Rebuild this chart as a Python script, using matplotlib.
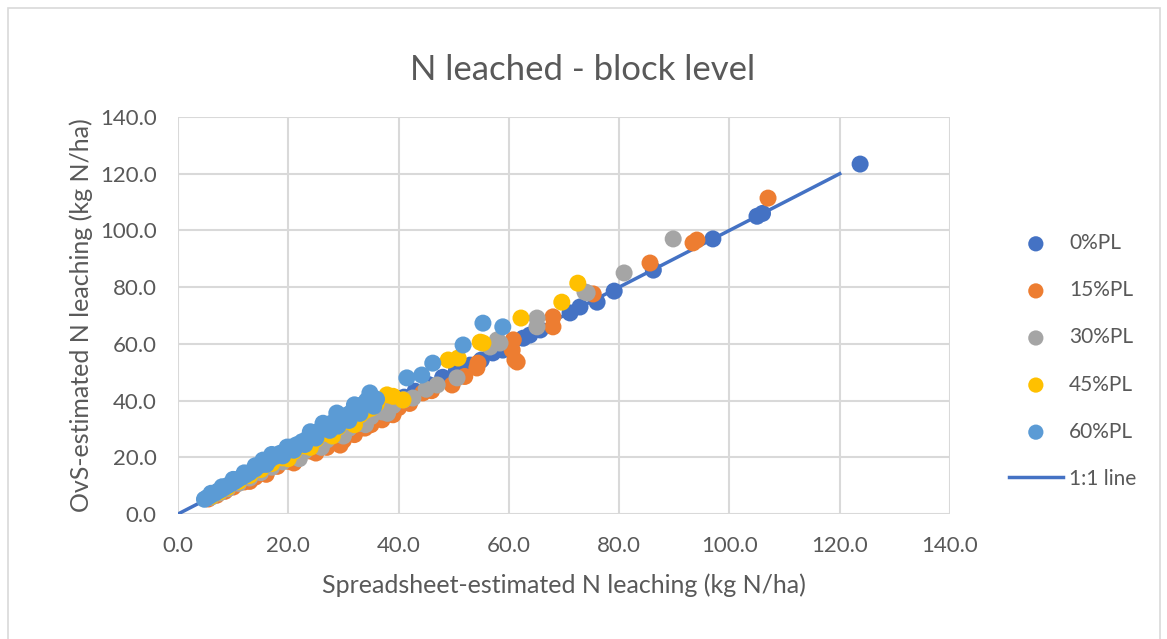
import matplotlib
matplotlib.use("Agg")
import matplotlib.pyplot as plt
from matplotlib.patches import Rectangle
from matplotlib.ticker import MultipleLocator, FormatStrFormatter

plt.rcParams['font.family'] = ['Lato', 'DejaVu Sans']

# 0%PL
x0 = [5.5, 6.5, 7.5, 8.5, 10, 11.5, 13, 14.5, 16, 17.5, 19, 20.5, 22, 23.5, 25, 26.5, 28, 29.5, 31, 33,
      35, 37, 39, 41, 43, 45.5, 48, 50.5, 53, 55, 57.1, 58.9, 60.5, 62.6, 63.8, 65.7, 71.1, 72.9, 76, 79.1,
      86.2, 97, 105, 106, 123.7]
y0 = [5.6, 6.6, 7.6, 8.7, 10.2, 11.6, 13.2, 14.6, 16.3, 17.7, 19.1, 20.8, 22.2, 23.6, 25.3, 26.7, 28.2, 29.8, 31.3, 33.2,
      35.3, 37.1, 39.4, 41.2, 43.3, 45.6, 48.2, 50.7, 52.5, 54.3, 56.8, 57.8, 60.2, 62, 63.1, 64.9, 70.9, 73, 74.7, 78.6,
      86, 97, 105, 106, 123.4]

# 15%PL
x15 = [5.5, 7, 8.5, 10, 12, 13, 14, 16, 16, 18, 20, 21, 22, 24, 25, 26, 27, 28, 29.4, 30,
       31, 32, 33.9, 35, 36, 37, 38, 39, 40, 42, 44.4, 46, 49.7, 52, 54.2, 54.4, 60.6, 60.8, 61.5, 61.1,
       68, 68, 75.3, 85.6, 93.4, 94.1, 107]
y15 = [5.3, 6.6, 8, 9.5, 11.3, 11.5, 13, 15, 14, 16.8, 18.6, 18, 20.5, 22.2, 21.5, 24.2, 23.5, 26, 24.3, 26,
       28.5, 28, 30.3, 31.5, 33.5, 33.2, 35, 35, 37.5, 39, 42.7, 43.5, 45.5, 48.5, 51.5, 53.2, 57.8, 61.4, 53.6, 54.3,
       69.5, 66, 77.6, 88.5, 95.6, 96.6, 111.4]

# 30%PL
x30 = [6, 7.5, 9, 11, 13, 15, 17, 19, 21, 22, 23, 25, 26, 27, 29, 30, 31, 33, 34, 35,
       37, 38, 39, 41, 42.6, 45, 47, 50.6, 56.6, 57.9, 58.4, 65.1, 65.1, 74.2, 73.8, 80.9, 89.8]
y30 = [5.9, 7.4, 8.9, 10.8, 12.7, 14.6, 16.5, 18.4, 20.4, 19.5, 22.2, 24.3, 23.5, 26.1, 28.2, 27.5, 30.2, 32, 31.5, 34.3,
       36, 35.5, 38.2, 40.3, 40.9, 44, 45.5, 48, 58.9, 61.4, 60.3, 69.1, 66, 78, 78.3, 85, 97]

# 45%PL
x45 = [6, 7.5, 9, 11, 13, 15, 17, 19, 20, 21, 23, 24, 25, 27, 28, 29, 30, 31, 32, 33,
       34, 35, 36, 37.9, 40.8, 39, 49, 50.8, 55.3, 54.8, 62.2, 69.6, 72.5]
y45 = [6.2, 7.8, 9.4, 11.5, 13.6, 15.7, 17.8, 19.8, 19.5, 22, 24, 23.5, 26.3, 28.4, 27.5, 30.6, 32.5, 32.8, 31.5, 34.9,
       36.5, 37.3, 39, 42, 40.2, 41.5, 54.3, 55, 60.3, 60.6, 69.1, 74.7, 81.4]

# 60%PL
x60 = [4.8, 5.3, 5.8, 6, 6.3, 6.8, 7.3, 7.8, 8, 8.4, 9, 9.6, 10, 10.2, 10.7, 11.5, 12, 12.3, 13, 14,
       14, 15, 15.4, 16, 16.5, 17, 17.5, 18.5, 19, 19.8, 20.5, 21, 21.5, 22.5, 23, 23.5, 24, 24.5, 25, 25.5,
       26.3, 27, 27.5, 28, 28.8, 29, 29.5, 30.5, 31, 31.5, 32, 32.5, 33, 33.5, 34.2, 34.8, 35.5, 36, 41.5, 44.2,
       46.2, 51.7, 55.3, 58.9]
y60 = [5.2, 5.8, 6.4, 7.3, 7.0, 7.5, 8.1, 8.6, 9.6, 9.3, 10, 10.7, 12.2, 11.4, 12, 12.9, 14.5, 13.8, 14.6, 15.9,
       17, 17.3, 19, 17.5, 18.9, 21, 20.2, 21.4, 20.5, 23.6, 23.6, 22.5, 24.4, 25.5, 24.5, 26.6, 29, 27.8, 26.8, 29.2,
       32, 30.8, 29.5, 32.2, 35.6, 31, 33.5, 34.8, 33, 36, 38.5, 37.4, 35.5, 38.6, 40, 42.7, 38, 40.5, 48, 49,
       53.2, 59.6, 67.3, 66]

line_x = [0, 120]
line_y = [0, 120]

series = [
    ('0%PL', x0, y0, '#4472C4'),
    ('15%PL', x15, y15, '#ED7D31'),
    ('30%PL', x30, y30, '#A5A5A5'),
    ('45%PL', x45, y45, '#FFC000'),
    ('60%PL', x60, y60, '#5B9BD5'),
]

txt = '#595959'
fig = plt.figure(figsize=(11.67, 6.39), dpi=100)
fig.patches.append(Rectangle((8 / 1167, -0.05), 1152 / 1167, 1.05 - 8 / 639, transform=fig.transFigure,
                             facecolor='white', edgecolor='#d9d9d9', linewidth=1.2, zorder=-10))
ax = fig.add_axes([178 / 1167, 1 - 514 / 639, (950 - 178) / 1167, (514 - 117) / 639])

ax.plot(line_x, line_y, color='#4472C4', linewidth=2.5, zorder=2, label='1:1 line')
for name, xs, ys, c in series:
    ax.scatter(xs, ys, s=150, color=c, edgecolors='none', zorder=3, label=name)

ax.set_xlim(0, 140)
ax.set_ylim(0, 140)
ax.xaxis.set_major_locator(MultipleLocator(20))
ax.yaxis.set_major_locator(MultipleLocator(20))
ax.xaxis.set_major_formatter(FormatStrFormatter('%.1f'))
ax.yaxis.set_major_formatter(FormatStrFormatter('%.1f'))
ax.grid(True, color='#d9d9d9', linewidth=1.5, zorder=0)
ax.set_axisbelow(True)
for s in ax.spines.values():
    s.set_visible(False)
ax.tick_params(length=0, labelsize=16, labelcolor=txt, pad=15.5)

ax.set_xlabel('Spreadsheet-estimated N leaching (kg N/ha)', fontsize=18, color=txt, labelpad=13)
ax.set_ylabel('OvS-estimated N leaching (kg N/ha)', fontsize=18, color=txt, labelpad=5)
fig.text(583 / 1167, 1 - 70 / 639, 'N leached - block level', ha='center', va='center', fontsize=25, color=txt)

h, l = ax.get_legend_handles_labels()
order = [1, 2, 3, 4, 5, 0]
leg = fig.legend([h[i] for i in order], [l[i] for i in order], loc='center left',
                 bbox_to_anchor=(990 / 1167, 1 - 361 / 639), frameon=False, fontsize=15,
                 labelcolor=txt, labelspacing=1.3, handlelength=2.6, handletextpad=0.3,
                 scatterpoints=1)
for hd in leg.legend_handles[:5]:
    hd.set_sizes([120])

fig.savefig('out.png', dpi=100)
